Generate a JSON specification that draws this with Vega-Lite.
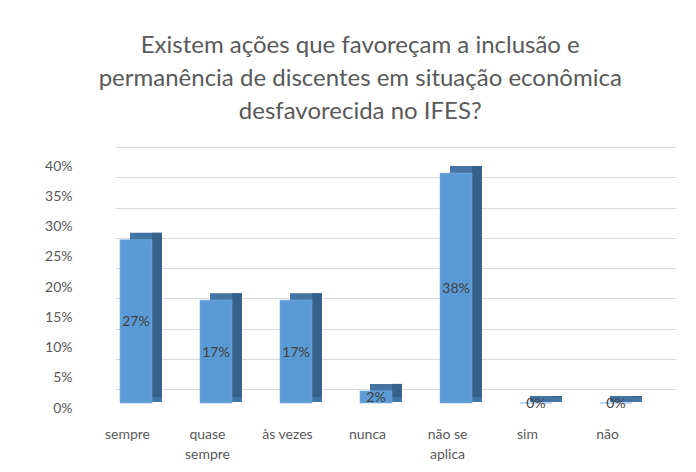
{
  "$schema": "https://vega.github.io/schema/vega-lite/v6.json",
  "width": 561,
  "height": 242,
  "autosize": {"type": "none"},
  "padding": {"left": 115, "top": 147, "right": 20, "bottom": 83},
  "background": "white",
  "config": {"view": {"stroke": null}},
  "title": {
    "text": ["Existem ações que favoreçam a inclusão e", "permanência de discentes em situação econômica", "desfavorecida no IFES?"],
    "font": "Lato",
    "fontSize": 24,
    "fontWeight": "normal",
    "color": "#595959",
    "lineHeight": 33,
    "anchor": "middle",
    "frame": "bounds",
    "offset": 23
  },
  "data": {
    "values": [
      {"c": "sempre", "v": 0.27},
      {"c": "quase sempre", "v": 0.17},
      {"c": "às vezes", "v": 0.17},
      {"c": "nunca", "v": 0.02},
      {"c": "não se aplica", "v": 0.38},
      {"c": "sim", "v": 0},
      {"c": "não", "v": 0}
    ]
  },
  "encoding": {
    "x": {
      "field": "c",
      "type": "nominal",
      "sort": null,
      "title": null,
      "scale": {"paddingInner": 0.6, "paddingOuter": 0.306},
      "axis": {
        "domain": false,
        "ticks": false,
        "labelAngle": 0,
        "labelFont": "Lato",
        "labelFontSize": 14,
        "labelColor": "#595959",
        "labelOffset": -28,
        "labelPadding": 38,
        "labelLineHeight": 20,
        "labelOverlap": false,
        "labelExpr": "datum.label == 'quase sempre' ? ['quase', 'sempre'] : datum.label == 'não se aplica' ? ['não se', 'aplica'] : datum.label"
      }
    }
  },
  "layer": [
    {
      "mark": {"type": "bar", "color": "#4474a3", "xOffset": -9.5, "yOffset": 7, "y2Offset": 13},
      "encoding": {
        "y": {
          "field": "v",
          "type": "quantitative",
          "title": null,
          "stack": null,
          "scale": {"domain": [0, 0.4]},
          "axis": {
            "values": [0, 0.05, 0.1, 0.15, 0.2, 0.25, 0.3, 0.35, 0.4],
            "format": ".0%",
            "domain": false,
            "ticks": false,
            "gridColor": "#d9d9d9",
            "labelFont": "Lato",
            "labelFontSize": 14,
            "labelColor": "#595959",
            "labelPadding": 43,
            "labelOffset": 19,
            "labelOverlap": false
          }
        },
        "y2": {"datum": 0}
      }
    },
    {
      "mark": {"type": "bar", "color": "#37618b", "width": 10, "xOffset": 1.5, "yOffset": 7, "y2Offset": 8},
      "encoding": {
        "y": {"field": "v", "type": "quantitative", "stack": null, "scale": {"domain": [0, 0.4]}, "axis": null},
        "y2": {"datum": 0}
      }
    },
    {
      "mark": {"type": "bar", "color": "#5b9bd5", "stroke": "#7fb2e3", "strokeWidth": 0.6, "xOffset": -19.5, "yOffset": 14, "y2Offset": 14},
      "encoding": {
        "y": {"field": "v", "type": "quantitative", "stack": null, "scale": {"domain": [0, 0.4]}, "axis": null},
        "y2": {"datum": 0}
      }
    },
    {
      "mark": {"type": "text", "font": "Lato", "fontSize": 14, "color": "#404040", "xOffset": -19.5, "yOffset": 15},
      "encoding": {
        "y": {"field": "v", "type": "quantitative", "scale": {"domain": [0, 0.8]}, "axis": null},
        "text": {"field": "v", "type": "quantitative", "format": ".0%"}
      }
    }
  ],
  "resolve": {"scale": {"y": "independent"}}
}
